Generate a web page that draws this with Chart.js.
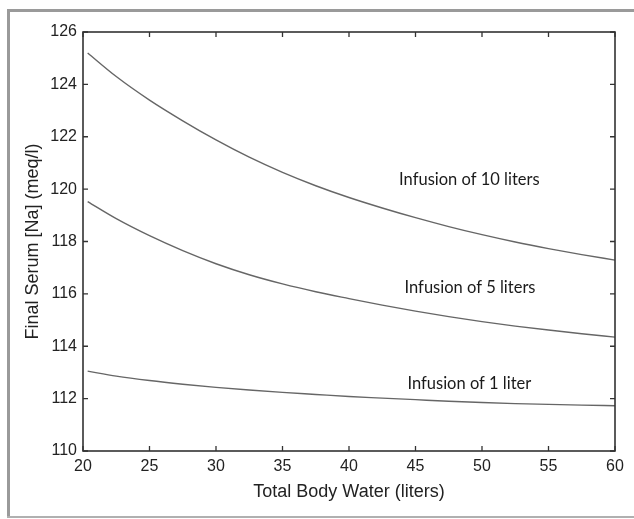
<!DOCTYPE html>
<html>
<head>
<meta charset="utf-8">
<script src="https://cdn.jsdelivr.net/npm/chart.js@4.4.1/dist/chart.umd.min.js"></script>
<style>
  html, body { margin: 0; padding: 0; background: #fff; }
  #wrap { width: 634px; height: 519px; position: relative; }
</style>
</head>
<body>
<div id="wrap"><canvas id="chart"></canvas></div>
<script>
// total body water (liters)
const waterX = [20.35, 22.5, 25, 27.5, 30, 32.5, 35, 37.5, 40, 42.5, 45, 47.5, 50, 52.5, 55, 57.5, 60];
// final serum Na (meq/l) for each infusion volume
const na10 = [125.2, 124.3, 123.4, 122.61, 121.88, 121.22, 120.64, 120.13, 119.68, 119.28, 118.91, 118.57, 118.26, 117.98, 117.73, 117.5, 117.29];
const na5 = [119.52, 118.87, 118.22, 117.65, 117.15, 116.73, 116.38, 116.08, 115.82, 115.57, 115.34, 115.13, 114.94, 114.77, 114.62, 114.48, 114.35];
const na1 = [113.05, 112.86, 112.69, 112.55, 112.43, 112.33, 112.24, 112.16, 112.08, 112.02, 111.96, 111.9, 111.85, 111.81, 111.78, 111.75, 111.73];

const curveLabels = ['Infusion of 10 liters', 'Infusion of 5 liters', 'Infusion of 1 liter'];
const labelX = [49.05, 49.1, 49.05];
const labelY = [120.38, 116.23, 112.56];

const toPoints = (ys) => ys.map((y, i) => ({ x: waterX[i], y }));

const lineStyle = {
  borderColor: '#666',
  borderWidth: 1.4,
  pointRadius: 0,
  fill: false,
  cubicInterpolationMode: 'monotone',
};

// page frame, inward ticks on all four sides, curve labels
const decorations = {
  id: 'decorations',
  afterDraw(chart) {
    const { ctx, chartArea: a, scales: { x, y } } = chart;
    ctx.save();

    // outer frame of the figure
    ctx.fillStyle = '#9a9a9a';
    ctx.fillRect(7, 9, 634 - 7, 3);
    ctx.fillRect(7, 9, 3, 509);
    ctx.fillStyle = '#b0b0b0';
    ctx.fillRect(7, 516, 634 - 7, 2);

    // inward tick marks
    ctx.strokeStyle = '#333';
    ctx.lineWidth = 1.3;
    ctx.beginPath();
    x.ticks.forEach((t, i) => {
      const px = x.getPixelForTick(i);
      ctx.moveTo(px, a.bottom); ctx.lineTo(px, a.bottom - 5);
      ctx.moveTo(px, a.top); ctx.lineTo(px, a.top + 5);
    });
    y.ticks.forEach((t, i) => {
      const py = y.getPixelForTick(i);
      ctx.moveTo(a.left, py); ctx.lineTo(a.left + 5, py);
      ctx.moveTo(a.right, py); ctx.lineTo(a.right - 5, py);
    });
    ctx.stroke();

    // plot box
    ctx.lineWidth = 1.6;
    ctx.strokeRect(a.left, a.top, a.right - a.left, a.bottom - a.top);

    // curve labels
    ctx.fillStyle = '#1a1a1a';
    ctx.font = '16.5px Lato';
    ctx.textAlign = 'center';
    ctx.textBaseline = 'middle';
    curveLabels.forEach((txt, i) => {
      ctx.fillText(txt, x.getPixelForValue(labelX[i]), y.getPixelForValue(labelY[i]));
    });
    ctx.restore();
  }
};

new Chart(document.getElementById('chart'), {
  type: 'line',
  data: {
    datasets: [
      { label: '10 liters', data: toPoints(na10), ...lineStyle },
      { label: '5 liters', data: toPoints(na5), ...lineStyle },
      { label: '1 liter', data: toPoints(na1), ...lineStyle },
    ],
  },
  options: {
    responsive: true,
    maintainAspectRatio: false,
    animation: false,
    layout: { padding: { top: 32, right: 19, left: 0, bottom: 0 } },
    plugins: {
      legend: { display: false },
      tooltip: { enabled: false },
    },
    scales: {
      x: {
        type: 'linear',
        min: 20,
        max: 60,
        ticks: {
          stepSize: 5,
          padding: 6,
          color: '#222',
          font: { family: 'Liberation Sans', size: 16 },
        },
        grid: { display: false, drawTicks: false },
        border: { display: false },
        title: {
          display: true,
          text: 'Total Body Water (liters)',
          color: '#222',
          font: { family: 'Liberation Sans', size: 18 },
          padding: { top: 0, bottom: 16.5 },
        },
        afterFit: (scale) => { scale.height = 68; },
      },
      y: {
        min: 110,
        max: 126,
        ticks: {
          stepSize: 2,
          padding: 6,
          color: '#222',
          font: { family: 'Liberation Sans', size: 16 },
        },
        grid: { display: false, drawTicks: false },
        border: { display: false },
        title: {
          display: true,
          text: 'Final Serum [Na] (meq/l)',
          color: '#222',
          font: { family: 'Liberation Sans', size: 18 },
          padding: { top: 22, bottom: 0 },
        },
        afterFit: (scale) => { scale.width = 83; },
      },
    },
  },
  plugins: [decorations],
});
</script>
</body>
</html>
